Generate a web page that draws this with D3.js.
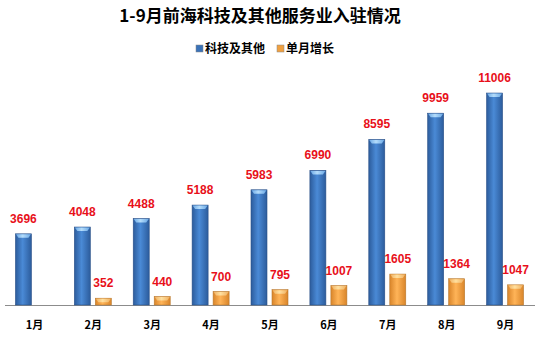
<!DOCTYPE html>
<html><head><meta charset="utf-8">
<script src="https://cdn.jsdelivr.net/npm/d3@7"></script>
<style>body{margin:0;background:#fff;}svg{display:block;}</style>
</head><body>
<script>
const categories = ["1月","2月","3月","4月","5月","6月","7月","8月","9月"];
const techValues = [3696,4048,4488,5188,5983,6990,8595,9959,11006];
const monthlyGrowth = [null,352,440,700,795,1007,1605,1364,1047];
const seriesNames = ["科技及其他","单月增长"];
const title = "1-9月前海科技及其他服务业入驻情况";

const W = 539, H = 338;
const svg = d3.select("body").append("svg").attr("width", W).attr("height", H);
const defs = svg.append("defs");
function grad(id, edge, mid) {
  const g = defs.append("linearGradient").attr("id", id).attr("x1","0").attr("x2","1").attr("y1","0").attr("y2","0");
  g.append("stop").attr("offset","0%").attr("stop-color", edge);
  g.append("stop").attr("offset","45%").attr("stop-color", mid);
  g.append("stop").attr("offset","100%").attr("stop-color", edge);
}
grad("gBlue", "#2c5c9c", "#4a8ad6");
grad("gOrange", "#d9852a", "#ffb458");
grad("gBlueCap", "#6aa8e6", "#b4dcfa");
grad("gOrangeCap", "#f0b060", "#ffe0a0");

const x = d3.scaleBand().domain(categories).range([5, 535]).padding(0);
const y = d3.scaleLinear().domain([0, 12000]).range([305, 73.9]);
const bw = 16;

// title
svg.append("text").attr("x", 260).attr("y", 22).attr("text-anchor","middle")
  .style("font-family","'Noto Sans CJK SC', sans-serif").style("font-weight","bold").style("font-size","17px")
  .attr("fill","#000").text(title);

// legend
const leg = [{c:"#3a72b8", n:seriesNames[0], x:196},{c:"#f0a040", n:seriesNames[1], x:277}];
leg.forEach(l => {
  svg.append("rect").attr("x", l.x).attr("y", 45).attr("width", 7).attr("height", 7)
    .attr("fill", l.c).attr("stroke", "#888").attr("stroke-width", 0.5);
  svg.append("text").attr("x", l.x + 9).attr("y", 52.5)
    .style("font-family","'Noto Sans CJK SC', sans-serif").style("font-weight","bold").style("font-size","12px")
    .attr("fill","#000").text(l.n);
});

// axis line
svg.append("line").attr("x1", 5).attr("x2", 535).attr("y1", 305.5).attr("y2", 305.5)
  .attr("stroke", "#8c8c8c").attr("stroke-width", 1);

function drawSeries(vals, offset, fillId, capId, strokeCol) {
  const g = svg.append("g");
  const data = categories.map((c, i) => ({c, v: vals[i]})).filter(d => d.v != null);
  g.selectAll("rect.bar").data(data).enter().append("rect")
    .attr("x", d => x(d.c) + x.bandwidth()/2 + offset - bw/2)
    .attr("y", d => y(d.v))
    .attr("width", bw).attr("height", d => y(0) - y(d.v))
    .attr("fill", `url(#${fillId})`).attr("stroke", strokeCol).attr("stroke-width", 0.6);
  g.selectAll("path.cap").data(data).enter().append("path")
    .attr("d", d => {
      const x0 = x(d.c) + x.bandwidth()/2 + offset - bw/2, y0 = y(d.v);
      return `M${x0+0.5},${y0+0.5} L${x0+bw-0.5},${y0+0.5} L${x0+bw-3},${y0+4} L${x0+3},${y0+4} Z`;
    })
    .attr("fill", `url(#${capId})`);
  g.selectAll("text").data(data).enter().append("text")
    .attr("x", d => x(d.c) + x.bandwidth()/2 + offset)
    .attr("y", d => y(d.v) - 11)
    .attr("text-anchor","middle")
    .style("font-family","'Liberation Sans', Arial, sans-serif").style("font-weight","bold").style("font-size","12px")
    .attr("fill","#e8101a").text(d => d.v);
}
drawSeries(techValues, -11, "gBlue", "gBlueCap", "#2a5088");
drawSeries(monthlyGrowth, 10, "gOrange", "gOrangeCap", "#b87a30");

// category labels
svg.selectAll("text.cat").data(categories).enter().append("text")
  .attr("class","cat")
  .attr("x", d => x(d) + x.bandwidth()/2)
  .attr("y", 329)
  .attr("text-anchor","middle")
  .style("font-family","'Noto Sans CJK SC', sans-serif").style("font-weight","bold").style("font-size","11px")
  .attr("fill","#000").text(d => d);
</script>
</body></html>
